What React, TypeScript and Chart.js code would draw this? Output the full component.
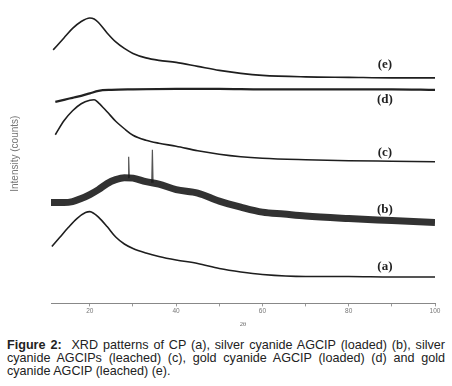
import React, { useEffect, useRef } from "react";
import { Chart, registerables } from "chart.js";

Chart.register(...registerables);

// 2θ positions and intensities (arbitrary offset counts)
const thetaA = [11.2, 13, 15, 17, 19, 20, 21, 22, 24, 26, 28, 30, 33, 36, 40, 45, 50, 55, 60, 70, 80, 90, 100];
const intensityA = [57, 66, 76, 85, 91, 92, 90, 86.5, 77, 66.5, 59.5, 55, 50.5, 47, 43.5, 40, 35, 31.5, 29, 27, 27, 26.5, 26.5];

const thetaB = [11, 14, 16, 18, 20, 22, 24, 26, 28, 30, 33, 36, 40, 45, 50, 55, 60, 65, 70, 80, 90, 100];
const intensityB = [101, 101, 102, 105, 109, 114, 120, 124, 126, 125.5, 122, 119.5, 114, 110.5, 102.5, 96.5, 91.5, 89.5, 87.5, 85, 83, 81];

const spikeTheta = [29.0, 34.5];
const spikeTop = [147, 154];
const spikeBase = [126, 121];

const thetaC = [12, 14, 16, 18, 20, 21, 22, 24, 26, 28, 30, 33, 36, 40, 45, 50, 55, 60, 70, 80, 90, 100];
const intensityC = [169, 183, 193, 200, 203.5, 204, 201, 192, 182.5, 175, 168.5, 163.5, 160.5, 157.5, 153, 149.5, 147, 145.5, 144, 143, 142.5, 142];

const thetaD = [12, 14, 16, 18, 20, 22, 25, 30, 40, 50, 60, 70, 80, 90, 100];
const intensityD = [202, 204, 206, 208, 210.5, 213, 214, 214.5, 215, 215, 214.5, 214.5, 214.5, 214.5, 214];

const thetaE = [11.5, 14, 16, 18, 20, 21, 22, 24, 26, 28, 30, 33, 36, 40, 45, 50, 55, 60, 70, 80, 90, 100];
const intensityE = [254, 266, 275.5, 282.5, 286, 285, 281.5, 271, 262, 255.5, 250.5, 246, 243.5, 241.5, 237.5, 233.5, 230.5, 228.5, 227, 226.5, 226, 226];

const curveLabels = ["(a)", "(b)", "(c)", "(d)", "(e)"];
const curveLabelTheta = [88.4, 88.4, 88.4, 88.4, 88.4];
const curveLabelIntensity = [37, 94, 151, 204, 239];

const xTickLabels = ["20", "40", "60", "80", "100"];

function toPoints(xs: number[], ys: number[]) {
  return xs.map((x, i) => ({ x, y: ys[i] }));
}

function spikePoints() {
  const pts: { x: number; y: number | null }[] = [];
  spikeTheta.forEach((t, i) => {
    pts.push({ x: t - 0.15, y: spikeBase[i] });
    pts.push({ x: t, y: spikeTop[i] });
    pts.push({ x: t + 0.15, y: spikeBase[i] });
    pts.push({ x: t + 0.16, y: null });
  });
  return pts;
}

const labelPlugin = {
  id: "curveLabels",
  afterDatasetsDraw(chart: any) {
    const { ctx, scales } = chart;
    const xs = scales.x;
    const ys = scales.y;
    ctx.save();
    ctx.font = 'bold 13px "Liberation Serif", "DejaVu Serif", serif';
    ctx.fillStyle = "#222";
    ctx.textAlign = "center";
    ctx.textBaseline = "middle";
    curveLabels.forEach((t, i) => {
      ctx.fillText(t, xs.getPixelForValue(curveLabelTheta[i]), ys.getPixelForValue(curveLabelIntensity[i]));
    });
    ctx.restore();
  },
};

export default function App() {
  const canvasRef = useRef<HTMLCanvasElement | null>(null);

  useEffect(() => {
    if (!canvasRef.current) return;
    const lineBase = {
      pointRadius: 0,
      fill: false,
      cubicInterpolationMode: "monotone" as const,
    };
    const chart = new Chart(canvasRef.current, {
      type: "line",
      data: {
        datasets: [
          { ...lineBase, label: "(a)", data: toPoints(thetaA, intensityA), borderColor: "#1e1e1e", borderWidth: 1.6 },
          { ...lineBase, label: "(b)", data: toPoints(thetaB, intensityB), borderColor: "rgba(22,22,22,0.88)", borderWidth: 7 },
          { pointRadius: 0, label: "(b) peaks", data: spikePoints(), borderColor: "#555", borderWidth: 1.2, tension: 0, spanGaps: false },
          { ...lineBase, label: "(c)", data: toPoints(thetaC, intensityC), borderColor: "#1e1e1e", borderWidth: 1.6 },
          { ...lineBase, label: "(d)", data: toPoints(thetaD, intensityD), borderColor: "#222", borderWidth: 2.2 },
          { ...lineBase, label: "(e)", data: toPoints(thetaE, intensityE), borderColor: "#1e1e1e", borderWidth: 1.6 },
        ],
      },
      options: {
        animation: false,
        responsive: false,
        layout: { padding: { left: 5, right: 17, top: 4, bottom: 0 } },
        plugins: { legend: { display: false }, tooltip: { enabled: false } },
        scales: {
          x: {
            type: "linear",
            min: 11,
            max: 100,
            ticks: {
              stepSize: 10,
              includeBounds: false,
              autoSkip: false,
              maxRotation: 0,
              padding: 1,
              color: "#777",
              font: { size: 6.5, family: '"Liberation Sans", Arial, sans-serif' },
              callback: (v: any) => {
                const s = String(v);
                return xTickLabels.includes(s) ? s : "";
              },
            },
            grid: { display: true, drawOnChartArea: false, drawTicks: true, tickLength: 3, color: "#999" },
            border: { display: true, color: "#888", width: 1 },
            title: {
              display: true,
              text: "2θ",
              color: "#666",
              font: { size: 6.5, family: '"Liberation Serif", serif' },
              padding: { top: 4, bottom: 2 },
            },
          },
          y: {
            type: "linear",
            min: 0,
            max: 300,
            ticks: { display: false },
            grid: { display: false, drawTicks: false },
            border: { display: false },
            title: {
              display: true,
              text: "Intensity (counts)",
              color: "#777",
              font: { size: 10, family: '"Liberation Sans", Arial, sans-serif' },
              padding: { top: 4, bottom: 30 },
            },
          },
        },
      },
      plugins: [labelPlugin],
    });
    return () => chart.destroy();
  }, []);

  const lineStyle: React.CSSProperties = {
    textAlign: "justify",
    textAlignLast: "justify" as any,
    height: 13,
  };

  return (
    <div style={{ position: "absolute", left: 0, top: 0, width: 452, height: 386, background: "#fff", overflow: "hidden" }}>
      <canvas ref={canvasRef} width={452} height={330} style={{ position: "absolute", left: 0, top: 0, width: 452, height: 330 }} />
      <div
        style={{
          position: "absolute",
          left: 7,
          top: 339,
          width: 438,
          fontFamily: '"Liberation Sans", Arial, sans-serif',
          fontSize: 12.6,
          lineHeight: "13px",
          color: "#222",
        }}
      >
        <div style={lineStyle}>
          <b>Figure 2:</b>&nbsp; XRD patterns of CP (a), silver cyanide AGCIP (loaded) (b), silver
        </div>
        <div style={lineStyle}>cyanide AGCIPs (leached) (c), gold cyanide AGCIP (loaded) (d) and gold</div>
        <div style={{ height: 13 }}>cyanide AGCIP (leached) (e).</div>
      </div>
    </div>
  );
}
